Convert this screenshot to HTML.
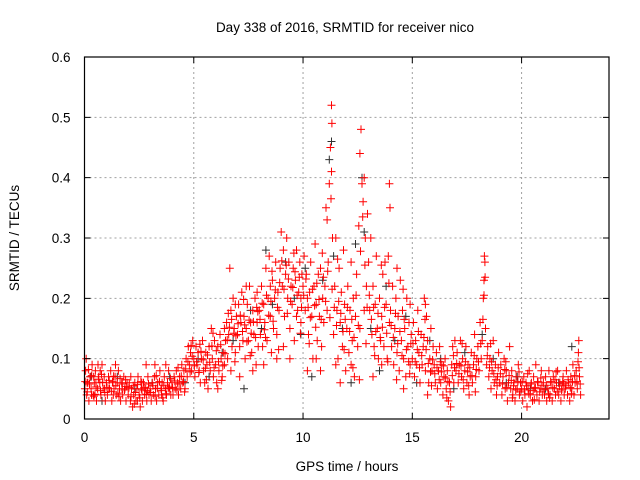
<!DOCTYPE html>
<html><head><meta charset="utf-8"><style>
body{margin:0;background:#fff;}
svg{display:block;font-family:"Liberation Sans",sans-serif;}
</style></head><body>
<svg id="chart" width="640" height="480">
<text x="345" y="32" font-size="13.5" text-anchor="middle" fill="#000">Day 338 of 2016, SRMTID for receiver nico</text>
<text x="347" y="471" font-size="13.5" text-anchor="middle" fill="#000">GPS time / hours</text>
<text x="19" y="238" font-size="13.5" text-anchor="middle" fill="#000" transform="rotate(-90 19 238)">SRMTID / TECUs</text>
<g id="grid"></g>
<g id="blackpts"></g>
<g id="redpts"></g>
<g id="axes"></g>
</svg>
<script>
const xTicks=[0,5,10,15,20];
const yTicks=[0,0.1,0.2,0.3,0.4,0.5,0.6];
const yTickLabels=["0","0.1","0.2","0.3","0.4","0.5","0.6"];
const redSeries=[
[0.02,.05],[0.05,.08],[0.1,.04],[0.15,.06],[0.2,.03],[0.25,.07],[0.3,.05],[0.35,.09],[0.4,.04],[0.45,.06],[0.5,.08],[0.55,.03],[0.6,.05],[0.65,.07],[0.7,.06],[0.75,.04],[0.8,.09],[0.85,.05],[0.9,.07],[0.95,.03],
[0.12,.06],[0.32,.04],[0.52,.06],[0.72,.08],[0.92,.05],[0.08,.1],[0.62,.09],[0.42,.07],
[1.0,.06],[1.05,.04],[1.1,.07],[1.15,.05],[1.2,.08],[1.25,.03],[1.3,.06],[1.35,.05],[1.4,.07],[1.45,.04],[1.5,.06],[1.55,.08],[1.6,.05],[1.65,.03],[1.7,.06],[1.75,.04],[1.8,.07],[1.85,.05],[1.9,.03],[1.95,.06],
[1.12,.05],[1.42,.09],[1.72,.05],[1.32,.04],
[2.0,.04],[2.05,.06],[2.1,.03],[2.15,.05],[2.2,.02],[2.25,.04],[2.3,.06],[2.35,.03],[2.4,.05],[2.45,.07],[2.5,.04],[2.55,.02],[2.6,.05],[2.65,.03],[2.7,.06],[2.75,.04],[2.8,.05],[2.85,.03],[2.9,.07],[2.95,.04],
[2.12,.07],[2.42,.03],[2.62,.06],[2.82,.09],
[3.0,.05],[3.05,.03],[3.1,.06],[3.15,.04],[3.2,.07],[3.25,.05],[3.3,.03],[3.35,.06],[3.4,.04],[3.45,.08],[3.5,.05],[3.55,.06],[3.6,.03],[3.65,.07],[3.7,.05],[3.75,.04],[3.8,.06],[3.85,.08],[3.9,.05],[3.95,.04],
[3.22,.09],[3.52,.04],[3.72,.09],
[4.0,.06],[4.05,.04],[4.1,.07],[4.15,.05],[4.2,.08],[4.25,.06],[4.3,.04],[4.35,.07],[4.4,.05],[4.45,.09],[4.5,.06],[4.55,.08],[4.6,.05],[4.65,.1],[4.7,.07],[4.75,.12],[4.8,.09],[4.85,.11],[4.9,.08],[4.95,.13],
[5.0,.1],[5.05,.07],[5.1,.12],[5.15,.09],[5.2,.11],[5.25,.08],[5.3,.06],[5.35,.1],[5.4,.13],[5.45,.08],[5.5,.06],[5.55,.11],[5.6,.09],[5.65,.05],[5.7,.12],[5.75,.08],[5.8,.15],[5.85,.1],[5.9,.07],[5.95,.13],
[6.0,.09],[6.05,.06],[6.1,.12],[6.15,.08],[6.2,.14],[6.25,.1],[6.3,.07],[6.35,.11],[6.4,.09],[6.45,.13],[6.5,.16],[6.55,.1],[6.6,.14],[6.65,.25],[6.7,.18],[6.75,.12],[6.8,.2],[6.85,.15],[6.9,.11],[6.95,.17],
[6.1,.05],[6.4,.15],[6.7,.08],[6.9,.19],
[7.0,.14],[7.05,.19],[7.1,.12],[7.15,.16],[7.2,.21],[7.25,.13],[7.3,.17],[7.35,.1],[7.4,.15],[7.45,.19],[7.5,.13],[7.55,.22],[7.6,.16],[7.65,.11],[7.7,.18],[7.75,.14],[7.8,.2],[7.85,.09],[7.9,.16],[7.95,.12],
[7.1,.07],[7.4,.22],[7.7,.08],[7.9,.21],
[8.0,.18],[8.05,.14],[8.1,.22],[8.15,.12],[8.2,.19],[8.25,.16],[8.3,.25],[8.35,.13],[8.4,.2],[8.45,.27],[8.5,.17],[8.55,.11],[8.6,.23],[8.65,.15],[8.7,.2],[8.75,.26],[8.8,.14],[8.85,.21],[8.9,.18],[8.95,.25],
[8.2,.09],[8.5,.22],[8.8,.1],
[9.0,.31],[9.05,.22],[9.1,.28],[9.15,.17],[9.2,.24],[9.25,.3],[9.3,.2],[9.35,.26],[9.4,.15],[9.45,.22],[9.5,.19],[9.55,.25],[9.6,.13],[9.65,.23],[9.7,.28],[9.75,.18],[9.8,.21],[9.85,.26],[9.9,.16],[9.95,.24],
[9.1,.12],[9.4,.1],[9.7,.17],[9.9,.2],
[10.0,.22],[10.05,.27],[10.1,.18],[10.15,.24],[10.2,.2],[10.25,.14],[10.3,.21],[10.35,.26],[10.4,.17],[10.45,.1],[10.5,.22],[10.55,.29],[10.6,.19],[10.65,.13],[10.7,.24],[10.75,.17],[10.8,.25],[10.85,.12],[10.9,.2],[10.95,.16],
[10.2,.08],[10.6,.1],[10.8,.08],
[11.0,.22],[11.05,.35],[11.1,.18],[11.15,.26],[11.2,.39],[11.25,.45],[11.3,.52],[11.32,.49],[11.35,.3],[11.4,.14],[11.45,.22],[11.5,.3],[11.55,.18],[11.6,.1],[11.65,.25],[11.7,.16],[11.75,.21],[11.8,.12],[11.85,.28],[11.9,.19],[11.95,.08],
[11.1,.33],[11.3,.41],[11.5,.09],[11.7,.06],
[12.0,.15],[12.05,.22],[12.1,.11],[12.15,.18],[12.2,.26],[12.25,.13],[12.3,.2],[12.35,.07],[12.4,.17],[12.45,.24],[12.5,.12],[12.55,.32],[12.6,.44],[12.65,.48],[12.7,.39],[12.75,.36],[12.8,.4],[12.85,.3],[12.9,.22],[12.95,.34],
[12.2,.09],[12.6,.15],[12.8,.18],
[13.0,.26],[13.05,.18],[13.1,.3],[13.15,.14],[13.2,.22],[13.25,.12],[13.3,.19],[13.35,.27],[13.4,.15],[13.45,.1],[13.5,.2],[13.55,.13],[13.6,.17],[13.65,.24],[13.7,.12],[13.75,.26],[13.8,.19],[13.85,.1],[13.9,.27],[13.95,.16],
[13.2,.07],[13.6,.09],[13.95,.39],[13.98,.35],
[14.0,.18],[14.05,.12],[14.1,.22],[14.15,.09],[14.2,.15],[14.25,.2],[14.3,.11],[14.35,.17],[14.4,.08],[14.45,.23],[14.5,.13],[14.55,.18],[14.6,.1],[14.65,.15],[14.7,.07],[14.75,.2],[14.8,.12],[14.85,.16],[14.9,.09],[14.95,.14],
[14.3,.25],[14.6,.05],[14.9,.19],
[15.0,.1],[15.05,.16],[15.1,.07],[15.15,.13],[15.2,.09],[15.25,.18],[15.3,.11],[15.35,.06],[15.4,.14],[15.45,.09],[15.5,.12],[15.55,.2],[15.6,.08],[15.65,.17],[15.7,.13],[15.75,.06],[15.8,.1],[15.85,.15],[15.9,.08],[15.95,.12],
[15.6,.19],[15.7,.04],
[16.0,.09],[16.05,.06],[16.1,.11],[16.15,.05],[16.2,.08],[16.25,.12],[16.3,.06],[16.35,.09],[16.4,.04],[16.45,.07],[16.5,.1],[16.55,.05],[16.6,.08],[16.65,.03],[16.7,.06],[16.75,.02],[16.8,.09],[16.85,.12],[16.9,.06],[16.95,.13],
[17.0,.08],[17.05,.11],[17.1,.06],[17.15,.09],[17.2,.13],[17.25,.07],[17.3,.1],[17.35,.05],[17.4,.08],[17.45,.12],[17.5,.06],[17.55,.09],[17.6,.04],[17.65,.07],[17.7,.11],[17.75,.06],[17.8,.09],[17.85,.14],[17.9,.07],[17.95,.1],
[18.0,.12],[18.05,.08],[18.1,.16],[18.15,.1],[18.2,.13],[18.25,.2],[18.28,.23],[18.3,.27],[18.32,.26],[18.35,.15],[18.4,.09],[18.45,.12],[18.5,.07],[18.55,.1],[18.6,.05],[18.65,.08],[18.7,.13],[18.75,.06],[18.8,.09],[18.85,.04],[18.9,.07],[18.95,.11],
[19.0,.06],[19.05,.09],[19.1,.04],[19.15,.07],[19.2,.1],[19.25,.05],[19.3,.08],[19.35,.03],[19.4,.06],[19.45,.12],[19.5,.05],[19.55,.08],[19.6,.04],[19.65,.06],[19.7,.03],[19.75,.07],[19.8,.05],[19.85,.09],[19.9,.04],[19.95,.06],
[20.0,.05],[20.05,.03],[20.1,.07],[20.15,.04],[20.2,.06],[20.25,.02],[20.3,.05],[20.35,.08],[20.4,.04],[20.45,.06],[20.5,.03],[20.55,.07],[20.6,.05],[20.65,.09],[20.7,.04],[20.75,.06],[20.8,.03],[20.85,.05],[20.9,.08],[20.95,.04],
[21.0,.06],[21.05,.04],[21.1,.07],[21.15,.03],[21.2,.05],[21.25,.08],[21.3,.04],[21.35,.06],[21.4,.03],[21.45,.07],[21.5,.05],[21.55,.04],[21.6,.06],[21.65,.08],[21.7,.04],[21.75,.06],[21.8,.03],[21.85,.05],[21.9,.07],[21.95,.04],
[22.0,.05],[22.05,.08],[22.1,.04],[22.15,.06],[22.2,.03],[22.25,.07],[22.3,.05],[22.35,.09],[22.4,.04],[22.45,.06],[22.5,.08],[22.55,.05],[22.6,.11],[22.62,.13],[22.65,.07],[22.7,.04]
];
const redSeries2=[
[0.03,.062],[0.13,.045],[0.23,.058],[0.33,.072],[0.43,.038],[0.53,.053],[0.63,.066],[0.73,.047],[0.83,.061],[0.93,.044],[0.18,.082],[0.48,.041],[0.78,.074],
[1.03,.052],[1.13,.064],[1.23,.046],[1.33,.071],[1.43,.055],[1.53,.043],[1.63,.067],[1.73,.058],[1.83,.048],[1.93,.054],[1.28,.062],[1.58,.037],[1.88,.065],
[2.03,.052],[2.13,.037],[2.23,.055],[2.33,.044],[2.43,.057],[2.53,.035],[2.63,.048],[2.73,.052],[2.83,.041],[2.93,.058],[2.28,.025],[2.58,.062],[2.88,.047],
[3.03,.044],[3.13,.055],[3.23,.038],[3.33,.051],[3.43,.062],[3.53,.047],[3.63,.056],[3.73,.042],[3.83,.051],[3.93,.067],[3.28,.072],[3.58,.035],[3.88,.053],
[4.03,.052],[4.13,.063],[4.23,.048],[4.33,.058],[4.43,.071],[4.53,.062],[4.63,.083],[4.73,.095],[4.83,.078],[4.93,.104],[4.28,.085],[4.58,.045],[4.88,.122],
[5.03,.088],[5.13,.095],[5.23,.077],[5.33,.112],[5.43,.098],[5.53,.084],[5.63,.106],[5.73,.094],[5.83,.121],[5.93,.085],[5.28,.124],[5.58,.065],[5.88,.142],
[6.03,.113],[6.13,.095],[6.23,.123],[6.33,.088],[6.43,.108],[6.53,.131],[6.63,.152],[6.73,.165],[6.83,.142],[6.93,.138],[6.28,.064],[6.58,.175],[6.88,.095],
[7.03,.158],[7.13,.172],[7.23,.145],[7.33,.156],[7.43,.128],[7.53,.164],[7.63,.142],[7.73,.161],[7.83,.135],[7.93,.178],[7.28,.198],[7.58,.105],[7.88,.185],
[8.03,.165],[8.13,.192],[8.23,.148],[8.33,.205],[8.43,.172],[8.53,.195],[8.63,.162],[8.73,.214],[8.83,.185],[8.93,.226],[8.28,.135],[8.58,.245],[8.88,.115],
[9.03,.262],[9.13,.215],[9.23,.255],[9.33,.232],[9.43,.195],[9.53,.218],[9.63,.244],[9.73,.205],[9.83,.235],[9.93,.185],[9.28,.175],[9.58,.275],[9.88,.142],
[10.03,.205],[10.13,.232],[10.23,.185],[10.33,.168],[10.43,.215],[10.53,.188],[10.63,.225],[10.73,.198],[10.83,.165],[10.93,.235],[10.28,.125],[10.58,.152],[10.88,.275],
[11.03,.195],[11.13,.245],[11.23,.168],[11.33,.215],[11.43,.185],[11.53,.155],[11.63,.195],[11.73,.175],[11.83,.145],[11.93,.165],[11.28,.365],[11.58,.265],[11.88,.115],
[12.03,.185],[12.13,.145],[12.23,.165],[12.33,.135],[12.43,.205],[12.53,.155],[12.63,.278],[12.73,.335],[12.83,.255],[12.93,.185],[12.28,.085],[12.58,.065],[12.88,.125],
[13.03,.205],[13.13,.165],[13.23,.185],[13.33,.145],[13.43,.175],[13.53,.135],[13.63,.152],[13.73,.185],[13.83,.142],[13.93,.225],[13.28,.105],[13.58,.255],[13.88,.095],
[14.03,.155],[14.13,.135],[14.23,.175],[14.33,.125],[14.43,.145],[14.53,.105],[14.63,.165],[14.73,.115],[14.83,.095],[14.93,.125],[14.28,.065],[14.58,.215],[14.88,.075],
[15.03,.125],[15.13,.095],[15.23,.115],[15.33,.085],[15.43,.105],[15.53,.135],[15.63,.115],[15.73,.092],[15.83,.078],[15.93,.098],[15.28,.145],[15.58,.165],[15.88,.055],
[16.03,.075],[16.13,.085],[16.23,.065],[16.33,.078],[16.43,.088],[16.53,.068],[16.63,.062],[16.73,.045],[16.83,.072],[16.93,.085],[16.28,.095],[16.58,.035],[16.88,.105],
[17.03,.092],[17.13,.075],[17.23,.088],[17.33,.065],[17.43,.095],[17.53,.078],[17.63,.085],[17.73,.072],[17.83,.105],[17.93,.082],[17.28,.125],[17.58,.055],[17.88,.045],
[18.03,.095],[18.13,.125],[18.23,.165],[18.33,.235],[18.43,.105],[18.53,.085],[18.63,.095],[18.73,.075],[18.83,.065],[18.93,.085],[18.28,.205],[18.58,.125],[18.88,.055],
[19.03,.075],[19.13,.058],[19.23,.082],[19.33,.052],[19.43,.072],[19.53,.064],[19.63,.055],[19.73,.048],[19.83,.062],[19.93,.045],[19.28,.095],[19.58,.035],[19.88,.078],
[20.03,.062],[20.13,.048],[20.23,.055],[20.33,.042],[20.43,.058],[20.53,.047],[20.63,.052],[20.73,.062],[20.83,.045],[20.93,.056],[20.28,.075],[20.58,.032],[20.88,.068],
[21.03,.048],[21.13,.056],[21.23,.042],[21.33,.062],[21.43,.052],[21.53,.065],[21.63,.045],[21.73,.055],[21.83,.048],[21.93,.058],[21.28,.035],[21.58,.078],[21.88,.062],
[22.03,.055],[22.13,.065],[22.23,.052],[22.33,.062],[22.43,.072],[22.53,.062],[22.63,.085],[22.68,.058],[22.28,.042],[22.58,.095]
];
const blackSeries=[
[0.3,.07],[0.8,.03],[1.5,.07],[2.3,.05],[3.1,.06],[3.9,.07],[4.6,.06],[5.2,.1],[5.7,.07],[6.3,.11],[6.8,.13],[7.3,.05],[7.6,.18],[8.1,.15],[8.6,.19],[9.2,.26],[9.6,.2],[10.1,.25],[10.4,.07],[10.9,.23],
[11.2,.43],[11.3,.46],[11.4,.27],[11.8,.15],[12.2,.06],[12.7,.4],[12.8,.31],[13.1,.15],[13.5,.08],[13.8,.22],[14.2,.13],[14.7,.17],[15.2,.06],[15.8,.13],[16.3,.1],[16.9,.05],[17.4,.11],[18.2,.14],[18.7,.1],[19.3,.06],
[19.8,.07],[20.4,.05],[21.1,.05],[21.7,.06],[22.3,.12],[12.4,.29],[9.9,.14],[8.3,.28]
];
const X0=84.5,X1=609,Y0=419,Y1=57,XMAX=24,YMAX=0.6;
function sx(t){return X0+(t/XMAX)*(X1-X0);}
function sy(v){return Y0-(v/YMAX)*(Y0-Y1);}
const NS="http://www.w3.org/2000/svg";
function mk(tag,attrs,parent){const e=document.createElementNS(NS,tag);for(const k in attrs)e.setAttribute(k,attrs[k]);parent.appendChild(e);return e;}
const grid=document.getElementById('grid'),axes=document.getElementById('axes');
xTicks.forEach(t=>{
  const x=sx(t);
  if(t>0){const g=mk('line',{x1:x,y1:Y0,x2:x,y2:Y1,stroke:'#a0a0a0','stroke-dasharray':'2,3','stroke-width':1},grid);
  
  }
  const tk=mk('path',{d:`M${x},${Y0}v-6M${x},${Y1}v6`,stroke:'#000','stroke-width':1},axes);
  
  
  const lb=mk('text',{x:x,y:Y0+23,'font-size':13.5,'text-anchor':'middle',fill:'#000'},axes);
  lb.textContent=String(t);
  
  
});
yTicks.forEach((v,i)=>{
  const y=sy(v);
  if(i>0&&i<yTicks.length-1){const g=mk('line',{x1:X0,y1:y,x2:X1,y2:y,stroke:'#a0a0a0','stroke-dasharray':'2,3','stroke-width':1},grid);
  
  }
  const tk=mk('path',{d:`M${X0},${y}h6M${X1},${y}h-6`,stroke:'#000','stroke-width':1},axes);
  
  
  const lb=mk('text',{x:X0-14,y:y+5,'font-size':13.5,'text-anchor':'end',fill:'#000'},axes);
  lb.textContent=yTickLabels[i];
  
  
});
const frame=mk('rect',{x:X0,y:Y1,width:X1-X0,height:Y0-Y1,fill:'none',stroke:'#000','stroke-width':1.2},axes);


function drawPts(arr,g,col,name){
  let d='';
  arr.forEach(p=>{const x=sx(p[0]),y=sy(p[1]);d+=`M${(x-4).toFixed(1)},${y.toFixed(1)}h8M${x.toFixed(1)},${(y-4).toFixed(1)}v8`;});
  const path=mk('path',{d:d,stroke:col,'stroke-width':1,fill:'none'},g);
  
  
}
drawPts(blackSeries,document.getElementById('blackpts'),'#303030','black-points');
drawPts(redSeries,document.getElementById('redpts'),'#ff0000','red-points');
drawPts(redSeries2,document.getElementById('redpts'),'#ff0000','red-points-extra');
</script>
</body></html>
